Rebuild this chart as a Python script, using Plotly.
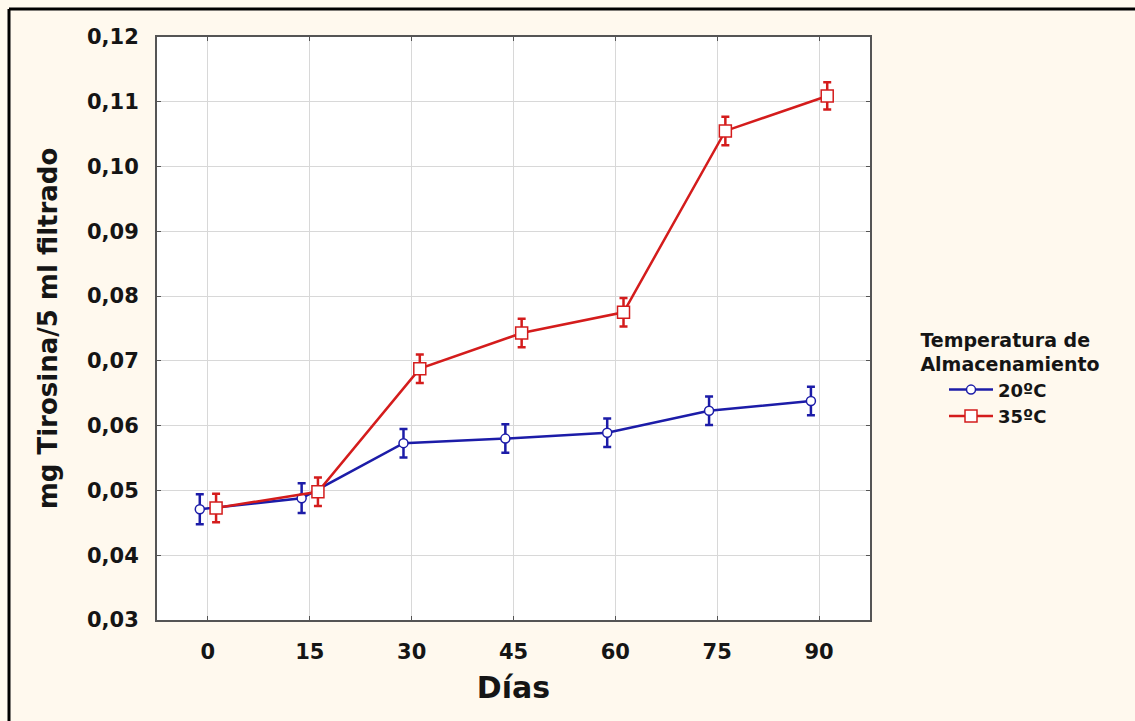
import plotly.graph_objects as go

dias = ["0", "15", "30", "45", "60", "75", "90"]
t20 = [0.0471, 0.0488, 0.0573, 0.0580, 0.0589, 0.0623, 0.0638]
t20_err = [0.0023, 0.0023, 0.0022, 0.0022, 0.0022, 0.0022, 0.0022]
t35 = [0.0473, 0.0498, 0.0688, 0.0743, 0.0775, 0.1055, 0.1109]
t35_err = [0.0022, 0.0022, 0.0022, 0.0022, 0.0022, 0.0022, 0.0021]
yticks = [0.03, 0.04, 0.05, 0.06, 0.07, 0.08, 0.09, 0.10, 0.11, 0.12]

BLUE = "#1c1ca8"
RED = "#d41c1c"
BG = "#fff9ee"
FONT = "DejaVu Sans, Arial, sans-serif"
W, H = 1135, 721
ML, MR, MT, MB = 157, 265, 37, 101
PW, PH = W - ML - MR, H - MT - MB

idx = list(range(len(dias)))
off = 0.08

fig = go.Figure()
fig.add_trace(go.Scatter(
    x=[i - off for i in idx], y=t20, name="20ºC", mode="lines+markers",
    line=dict(color=BLUE, width=2.5),
    marker=dict(symbol="circle", size=9, color="white", line=dict(color=BLUE, width=1.5)),
    error_y=dict(type="data", array=t20_err, color=BLUE, thickness=2.5, width=4),
))
fig.add_trace(go.Scatter(
    x=[i + off for i in idx], y=t35, name="35ºC", mode="lines+markers",
    line=dict(color=RED, width=2.5),
    marker=dict(symbol="square", size=12, color="white", line=dict(color=RED, width=1.5)),
    error_y=dict(type="data", array=t35_err, color=RED, thickness=2.5, width=4),
))

def px_x(p):
    return (p - ML) / PW

def px_y(p):
    return (H - MB - p) / PH

fig.update_layout(
    width=W, height=H,
    margin=dict(l=ML, r=MR, t=MT, b=MB, autoexpand=False),
    paper_bgcolor=BG, plot_bgcolor="white",
    separators=",.",
    font=dict(family=FONT, color="#151515"),
    showlegend=True,
    legend=dict(
        x=px_x(1010), y=px_y(322), xanchor="center", yanchor="top",
        bgcolor="rgba(0,0,0,0)",
        title=dict(text="Temperatura de<br>Almacenamiento", side="top center",
                   font=dict(size=19, weight="bold", family=FONT)),
        font=dict(size=18, weight="bold", family=FONT),
        itemwidth=44, tracegroupgap=0, indentation=26,
    ),
    xaxis=dict(
        range=[-0.5, 6.5], tickmode="array", tickvals=idx, ticktext=dias,
        showgrid=True, gridcolor="#d8d8d8", gridwidth=1,
        ticks="inside", ticklen=4, tickcolor="#555", mirror="ticks",
        showline=True, linecolor="#555", linewidth=2,
        tickfont=dict(size=21, weight="bold", family=FONT),
        ticklabelstandoff=12,
        title=dict(text="Días", font=dict(size=30, weight="bold", family=FONT), standoff=14),
        zeroline=False,
    ),
    yaxis=dict(
        range=[0.03, 0.12], tickmode="array", tickvals=yticks, tickformat=".2f",
        showgrid=True, gridcolor="#d8d8d8", gridwidth=1,
        ticks="inside", ticklen=4, tickcolor="#555", mirror="ticks",
        showline=True, linecolor="#555", linewidth=2,
        tickfont=dict(size=21, weight="bold", family=FONT),
        ticklabelstandoff=12,
        title=dict(text="mg Tirosina/5 ml filtrado", font=dict(size=26, weight="bold", family=FONT), standoff=22),
        zeroline=False,
    ),
    shapes=[
        dict(type="line", xref="paper", yref="paper", x0=px_x(9), x1=px_x(W + 5),
             y0=px_y(9), y1=px_y(9), line=dict(color="black", width=3)),
        dict(type="line", xref="paper", yref="paper", x0=px_x(9), x1=px_x(9),
             y0=px_y(9), y1=px_y(H + 5), line=dict(color="black", width=3)),
    ],
)

fig.write_html("out.html")
